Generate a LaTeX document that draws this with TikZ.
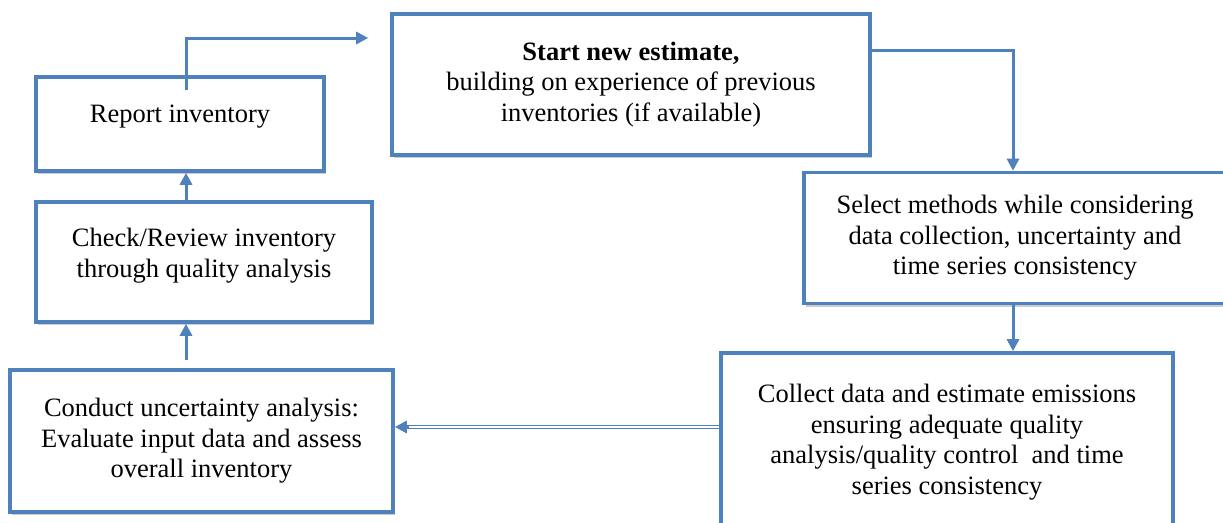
\documentclass[tikz,border=0pt]{standalone}
\usepackage{fontspec}
\setmainfont{Liberation Serif}
\usetikzlibrary{arrows.meta,shadows}
\definecolor{boxblue}{HTML}{4F81BD}
\begin{document}
\begin{tikzpicture}[x=1pt,y=-1pt,
  stepbox/.style={draw=boxblue, line width=3.6pt, fill=white, rectangle, inner sep=0pt,
    align=center, font=\fontsize{26.5}{30.5}\selectfont,
    drop shadow={shadow xshift=2pt, shadow yshift=-3pt, fill=black, opacity=0.2}},
  conn/.style={draw=boxblue, line width=3pt, -{Triangle[width=12pt,length=12pt]}},
]
\useasboundingbox (0,0) rectangle (1223,522);
\clip (0,0) rectangle (1223,522);
\node[stepbox, minimum width=288pt, minimum height=94pt] (report) at (180,124) {\raisebox{7pt}[\height][\depth]{Report inventory}};
\node[stepbox, minimum width=478pt, minimum height=141pt] (start) at (631,84.5)
  {\textbf{Start new estimate,}\\building on experience of previous\\inventories (if available)};
\node[stepbox, minimum width=422pt, minimum height=131pt] (select) at (1015,238)
  {Select methods while considering\\data collection, uncertainty and\\time series consistency};
\node[stepbox, minimum width=452pt, minimum height=178pt] (collect) at (947,442)
  {Collect data and estimate emissions\\ensuring adequate quality\\analysis/quality control\ \ and time\\series consistency};
\node[stepbox, minimum width=336pt, minimum height=120pt] (check) at (204,262)
  {\raisebox{6pt}[\height][\depth]{\begin{tabular}{@{}c@{}}Check/Review inventory\\through quality analysis\end{tabular}}};
\node[stepbox, minimum width=383pt, minimum height=142pt] (conduct) at (201.5,441)
  {Conduct uncertainty analysis:\\Evaluate input data and assess\\overall inventory};
\coordinate (rstart) at ([yshift=-15pt]report.north -| 186,0);
\coordinate (tostart) at ([xshift=-22pt]start.west |- 0,38);
\draw[conn] (rstart) |- (tostart);
\draw[conn] (start.east |- 0,50) -| (select.north -| 1013,0);
\draw[conn] (select.south -| 1013,0) -- (collect.north -| 1013,0);
\draw[conn, line width=4.5pt] (collect.west |- 0,427) -- (conduct.east |- 0,427);
\draw[white, line width=1.6pt, shorten >=14pt] (collect.west |- 0,427) -- (conduct.east |- 0,427);
\draw[conn] ([yshift=8pt]conduct.north -| 186,0) -- (check.south -| 186,0);
\draw[conn] (check.north -| 186,0) -- (report.south -| 186,0);
\end{tikzpicture}
\end{document}
